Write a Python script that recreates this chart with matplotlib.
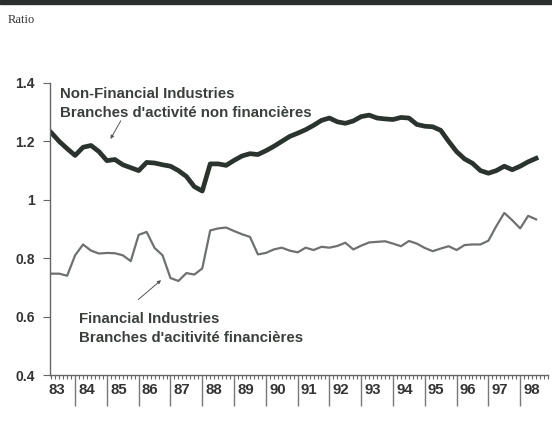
import matplotlib.pyplot as plt
import matplotlib.transforms as mtransforms
import numpy as np

# квартальні дані, 1983 Q2 - 1998 Q3
start_year = 1983.25
non_financial = [1.23, 1.20, 1.175, 1.152, 1.18, 1.186, 1.165, 1.134,
                 1.138, 1.12, 1.11, 1.10, 1.128, 1.126, 1.12, 1.115,
                 1.10, 1.08, 1.045, 1.03, 1.123, 1.123, 1.118, 1.135,
                 1.15, 1.158, 1.155, 1.168, 1.183, 1.20, 1.217, 1.228,
                 1.24, 1.255, 1.272, 1.28, 1.267, 1.262, 1.27, 1.285,
                 1.29, 1.28, 1.277, 1.275, 1.282, 1.28, 1.258, 1.252,
                 1.25, 1.238, 1.20, 1.165, 1.14, 1.125, 1.10, 1.091,
                 1.10, 1.115, 1.103, 1.115, 1.13, 1.142]
financial = [0.747, 0.747, 0.74, 0.81, 0.847, 0.826, 0.816, 0.818,
             0.817, 0.81, 0.79, 0.88, 0.89, 0.835, 0.81, 0.732,
             0.722, 0.749, 0.744, 0.765, 0.895, 0.902, 0.905, 0.893,
             0.882, 0.873, 0.813, 0.818, 0.83, 0.836, 0.826, 0.82,
             0.836, 0.828, 0.839, 0.836, 0.842, 0.853, 0.83, 0.843,
             0.854, 0.856, 0.858, 0.85, 0.841, 0.859, 0.85, 0.835,
             0.824, 0.833, 0.841, 0.828, 0.845, 0.847, 0.847, 0.86,
             0.91, 0.955, 0.93, 0.902, 0.945, 0.933]
years = list(range(1983, 1999))
year_labels = [str(y)[2:] for y in years]
y_ticks = [0.4, 0.6, 0.8, 1.0, 1.2, 1.4]
y_tick_labels = ['0.4', '0.6', '0.8', '1', '1.2', '1.4']

font = 'Liberation Sans'


def main():
    fig = plt.figure(figsize=(5.52, 4.29), dpi=100)
    ax = fig.add_axes([50 / 552, 1 - 375 / 429, 498 / 552, 292 / 429])

    t = start_year + 0.25 * np.arange(len(non_financial))
    ax.plot(t, non_financial, color='#2a332e', lw=3.4, solid_joinstyle='round')
    ax.plot(t, financial, color='#6e716f', lw=1.6, solid_joinstyle='round')

    ax.set_xlim(1983.21, 1998.87)
    ax.set_ylim(0.4, 1.4)

    for s in ['top', 'right']:
        ax.spines[s].set_visible(False)
    for s in ['left', 'bottom']:
        ax.spines[s].set_color('#666666')
        ax.spines[s].set_linewidth(1.0)

    ax.set_yticks(y_ticks)
    ax.set_yticklabels(y_tick_labels, fontfamily=font, fontweight='bold',
                       fontsize=10, color='#333333')
    ax.tick_params(axis='y', length=5, color='#666666', pad=6)

    # основні поділки - початок року, допоміжні - кожні 1/8 року
    ax.set_xticks(years[1:])
    ax.set_xticklabels([])
    ax.set_xticks(np.arange(1983.25, 1998.9, 0.125), minor=True)
    ax.tick_params(axis='x', which='major', length=22, color='#777777', width=1)
    ax.tick_params(axis='x', which='minor', length=3, color='#666666', width=0.8)

    trans = mtransforms.blended_transform_factory(ax.transData, ax.transAxes)
    for yr, lab in zip(years, year_labels):
        xpos = yr + 0.1 if yr > 1983 else 1983.15
        ax.text(xpos, -0.052, lab, transform=trans, ha='left', va='center',
                fontfamily=font, fontweight='bold', fontsize=10.8,
                color='#333333', clip_on=False)

    txt = dict(fontfamily=font, fontweight='bold', fontsize=10.8,
               color='#3a3f3c', ha='left', va='center')
    ax.text(1983.53, 1.362, 'Non-Financial Industries', **txt)
    ax.text(1983.53, 1.297, "Branches d'activité non financières", **txt)
    ax.text(1984.13, 0.593, 'Financial Industries', **txt)
    ax.text(1984.13, 0.528, "Branches d'acitivité financières", **txt)

    ax.annotate('', xy=(1985.07, 1.20), xytext=(1985.48, 1.279),
                arrowprops=dict(arrowstyle='-|>', color='#555555', lw=0.7,
                                mutation_scale=5))
    ax.annotate('', xy=(1986.77, 0.731), xytext=(1985.92, 0.652),
                arrowprops=dict(arrowstyle='-|>', color='#555555', lw=0.7,
                                mutation_scale=5))

    fig.text(8 / 552, 1 - 20 / 429, 'Ratio', fontfamily='Liberation Serif',
             fontsize=9, color='#333333', ha='left', va='center')
    fig.patches.append(plt.Rectangle((0, 1 - 4 / 429), 1, 4 / 429,
                                     transform=fig.transFigure,
                                     color='#2a2e2c'))

    fig.savefig('out.png', dpi=100)


if __name__ == '__main__':
    main()
